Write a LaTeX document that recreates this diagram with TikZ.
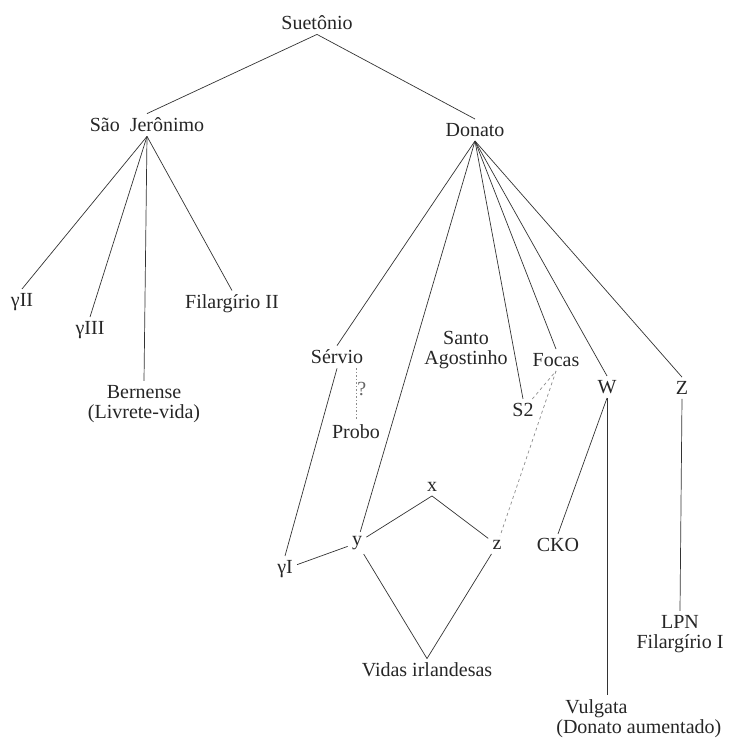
\documentclass[tikz,border=0pt]{standalone}
\usepackage{fontspec}
\setmainfont{Liberation Serif}
\begin{document}
\begin{tikzpicture}[x=1pt,y=-1pt,line width=0.7pt,draw=black!80,
  ms/.style={font=\fontsize{20}{20}\selectfont,inner sep=4pt,align=center,text=black!85},
  doubt/.style={black!45,dash pattern=on 3pt off 3pt}]
  \useasboundingbox (0,0) rectangle (729,740);
  % top of the stemma
  \node[ms] (suet) at (317,23) {Suetônio};
  \node[ms] (jer) at (147,125) {São\ \ Jerônimo};
  \node[ms] (don) at (475,130) {Donato};
  \draw (suet.south) -- (jer.north);
  \draw (suet.south) -- (don.north);
  % branch of Sao Jeronimo
  \node[ms] (g2) at (22,302) {γII};
  \node[ms] (g3) at (90,330) {γIII};
  \node[ms] (fil2) at (232,304) {Filargírio\ II};
  \node[ms] (bern) at (144,404) {Bernense\\(Livrete-vida)};
  \foreach \n in {g2,g3,bern,fil2}
    \draw (jer.south) -- (\n.north);
  % branch of Donato
  \node[ms] (servio) at (337,357) {Sérvio};
  \node[ms] (agost) at (466,350) {Santo\\Agostinho};
  \node[ms] (focas) at (556,360) {Focas};
  \node[ms] (s2) at (523,410) {S2};
  \node[ms] (w) at (607,387) {W};
  \node[ms] (zz) at (682,388) {Z};
  \node[ms] (probo) at (356,432) {Probo};
  \node[ms] (nx) at (432,487) {x};
  \node[ms] (ny) at (357,543) {y};
  \node[ms] (nz) at (497,545) {z};
  \node[ms] (g1) at (285,569) {γI};
  \node[ms] (cko) at (558,545) {CKO};
  \node[ms] (vidas) at (427,670) {Vidas\ irlandesas};
  \node[ms] (lpn) at (680,634) {LPN\\Filargírio\ I};
  \node[ms,align=left,anchor=north west] (vulg) at (552,695) {\hspace*{9pt}Vulgata\\(Donato\ aumentado)};
  \foreach \n in {servio,s2,focas,w,zz}
    \draw (don.south) -- (\n.north);
  \draw (don.south) -- (ny);
  \draw (servio.south) -- (g1.north);
  \draw (g1) -- (ny);
  \draw (ny) -- (nx.south) -- (nz);
  \draw (ny) -- (vidas.north) -- (nz);
  \draw (w.south) -- (cko.north);
  \draw (w.south) -- (w.south |- vulg.north);
  \draw (zz.south) -- (lpn.north);
  % uncertain links
  \draw[doubt,dash pattern=on 1.5pt off 2pt] (servio.south -| probo.north) -- (probo.north)
    node[ms,pos=.4,right,inner sep=1pt,text=black!60] (q) {?};
  \draw[doubt] (s2) -- (focas.south);
  \draw[doubt] (focas.south) -- (nz);
\end{tikzpicture}
\end{document}
